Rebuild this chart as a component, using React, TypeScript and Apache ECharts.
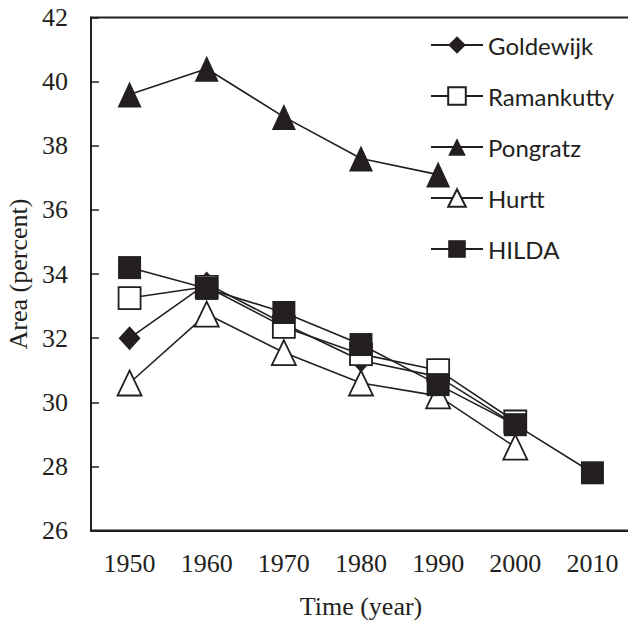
import React, { useEffect, useRef } from "react";
import * as echarts from "echarts";

const years = ["1950", "1960", "1970", "1980", "1990", "2000", "2010"];
const goldewijk = [32.0, 33.7, 32.45, 31.3, 30.8, 29.3, null];
const ramankutty = [33.25, 33.6, 32.35, 31.5, 31.0, 29.4, null];
const pongratz = [39.6, 40.4, 38.9, 37.6, 37.1, null, null];
const hurtt = [30.6, 32.75, 31.55, 30.6, 30.2, 28.6, null];
const hilda = [34.2, 33.55, 32.8, 31.8, 30.55, 29.3, 27.8];

const INK = "#231f20";

export default function App() {
  const ref = useRef<HTMLDivElement>(null);
  useEffect(() => {
    if (!ref.current) return;
    const chart = echarts.init(ref.current, null, { renderer: "svg" });
    const mk = (name: string, data: any[], symbol: string, size: any, hollow: boolean) => ({
      name,
      type: "line",
      data,
      symbol,
      symbolSize: size,
      connectNulls: false,
      lineStyle: { color: INK, width: 1.6 },
      itemStyle: hollow
        ? { color: "#ffffff", borderColor: INK, borderWidth: 1.8 }
        : { color: INK, borderColor: INK, borderWidth: 0 },
      emphasis: { disabled: true },
    });
    chart.setOption({
      animation: false,
      backgroundColor: "#ffffff",
      grid: {
        left: 91,
        top: 17.5,
        width: 540,
        height: 513,
        outerBoundsMode: "none",
        containLabel: false,
        show: true,
        borderColor: INK,
        borderWidth: 2,
        backgroundColor: "transparent",
      },
      legend: {
        orient: "vertical",
        left: 425,
        top: 28,
        itemWidth: 52,
        itemHeight: 22,
        itemGap: 27,
        data: ["Goldewijk", "Ramankutty", "Pongratz", "Hurtt", "HILDA"],
        textStyle: { fontFamily: "Lato", fontSize: 24, color: INK, padding: [0, 0, 0, 0] },
      },
      xAxis: {
        type: "category",
        data: years,
        boundaryGap: true,
        name: "Time (year)",
        nameLocation: "middle",
        nameGap: 63,
        nameTextStyle: { fontFamily: "Liberation Serif", fontSize: 26, color: INK },
        axisLine: { lineStyle: { color: INK, width: 2 } },
        axisTick: { inside: true, length: 7, alignWithLabel: true, lineStyle: { color: INK, width: 1.5 } },
        axisLabel: { fontFamily: "Liberation Serif", fontSize: 26, color: INK, margin: 20 },
      },
      yAxis: {
        type: "value",
        min: 26,
        max: 42,
        interval: 2,
        name: "Area (percent)",
        nameLocation: "middle",
        nameGap: 60,
        nameTextStyle: { fontFamily: "Liberation Serif", fontSize: 26, color: INK },
        axisLine: { show: true, lineStyle: { color: INK, width: 2 } },
        axisTick: { show: true, inside: true, length: 8, lineStyle: { color: INK, width: 1.5 } },
        axisLabel: { fontFamily: "Liberation Serif", fontSize: 26, color: INK, margin: 23 },
        splitLine: { show: false },
      },
      series: [
        mk("Goldewijk", goldewijk, "diamond", [22, 24], false),
        mk("Ramankutty", ramankutty, "rect", 22, true),
        mk("Pongratz", pongratz, "triangle", [24, 26], false),
        mk("Hurtt", hurtt, "triangle", [24, 25], true),
        mk("HILDA", hilda, "rect", 23, false),
      ],
    });
    return () => chart.dispose();
  }, []);
  return (
    <div
      ref={ref}
      style={{ position: "fixed", left: 0, top: 0, width: 628, height: 624 }}
    />
  );
}
